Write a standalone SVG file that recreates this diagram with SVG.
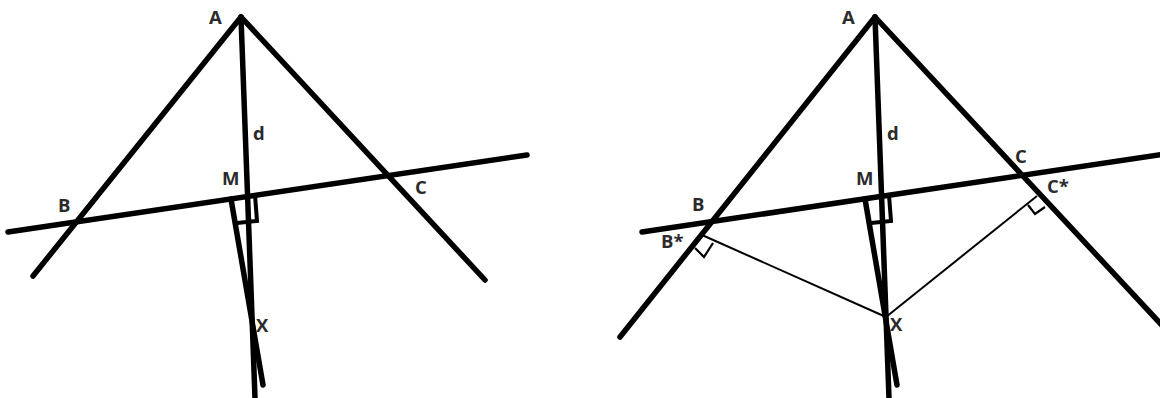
<svg xmlns="http://www.w3.org/2000/svg" width="1160" height="398" viewBox="0 0 1160 398">
<style>
.thick{stroke:#000;stroke-width:5.5;fill:none;stroke-linecap:round;stroke-linejoin:round}
.mark{stroke:#000;stroke-width:4;fill:none;stroke-linejoin:miter}
.thin{stroke:#000;stroke-width:2;fill:none}
.thinmark{stroke:#000;stroke-width:2.2;fill:none}
.lbl{font-family:"Open Sans","Liberation Sans",sans-serif;font-weight:bold;font-size:18.5px;fill:#2b2b2b}
</style>
<rect width="1160" height="398" fill="#fff"/>
<g id="figure-left">
  <g id="lines-left">
    <line class="thick" x1="241" y1="17" x2="33" y2="276"/>
    <line class="thick" x1="241" y1="17" x2="485" y2="280"/>
    <line class="thick" x1="8" y1="232" x2="527" y2="155"/>
    <line class="thick" x1="241" y1="17" x2="255" y2="398"/>
    <line class="thick" x1="231" y1="199" x2="263" y2="385"/>
    <polyline class="mark" points="237,223 257,221 255,195"/>
  </g>
  <g id="labels-left">
    <text class="lbl" x="209" y="24">A</text>
    <text class="lbl" x="253" y="140">d</text>
    <text class="lbl" x="222" y="185">M</text>
    <text class="lbl" x="58" y="212">B</text>
    <text class="lbl" x="415" y="194">C</text>
    <text class="lbl" x="256" y="332">X</text>
  </g>
</g>
<g id="figure-right">
  <g id="lines-right">
    <line class="thick" x1="875" y1="17" x2="620" y2="337"/>
    <line class="thick" x1="875" y1="17" x2="1172" y2="336"/>
    <line class="thick" x1="642" y1="232" x2="1172" y2="153"/>
    <line class="thick" x1="875" y1="17" x2="889" y2="398"/>
    <line class="thick" x1="865" y1="199" x2="897" y2="385"/>
    <polyline class="mark" points="871,223 891,221 889,195"/>
    <line class="thin" x1="702" y1="235" x2="886" y2="317"/>
    <line class="thin" x1="886" y1="317" x2="1037" y2="196"/>
    <polyline class="thinmark" points="695,248 704,257 713,243"/>
    <polyline class="thinmark" points="1028,205 1035,214 1045,207"/>
  </g>
  <g id="labels-right">
    <text class="lbl" x="842" y="24">A</text>
    <text class="lbl" x="887" y="140">d</text>
    <text class="lbl" x="856" y="185">M</text>
    <text class="lbl" x="692" y="211">B</text>
    <text class="lbl" x="661" y="248">B*</text>
    <text class="lbl" x="1015" y="163">C</text>
    <text class="lbl" x="1047" y="193">C*</text>
    <text class="lbl" x="890" y="331">X</text>
  </g>
</g>
</svg>
